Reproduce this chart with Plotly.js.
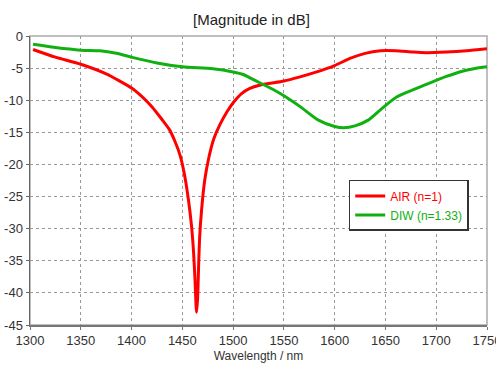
<!DOCTYPE html>
<html><head><meta charset="utf-8">
<script src="https://cdn.plot.ly/plotly-3.0.1.min.js"></script>
<style>html,body{margin:0;padding:0;background:#fff;}#chart{width:496px;height:365px;}</style>
</head><body><div id="chart"></div>
<script>
const airWavelength = [1303,1325,1350,1375,1400,1410,1420,1430,1437,1443,1448,1452,1456,1459,1461,1462.5,1463.5,1464,1465,1466,1467,1469,1472,1476,1481,1487,1494,1501,1508,1516,1525,1535,1550,1565,1580,1600,1615,1630,1645,1660,1677,1690,1710,1730,1750];
const airDb = [-2.1,-3.3,-4.4,-5.9,-8.1,-9.4,-11.0,-13.0,-14.5,-16.5,-18.7,-21.5,-25.5,-29.5,-33.5,-38,-42,-43,-41,-36,-31.5,-27,-22.5,-19,-16,-13.8,-11.8,-10.2,-9.0,-8.2,-7.7,-7.4,-7.0,-6.4,-5.7,-4.6,-3.5,-2.7,-2.3,-2.3,-2.5,-2.6,-2.5,-2.3,-2.0];
const diwWavelength = [1303,1325,1350,1369,1385,1400,1425,1450,1480,1500,1510,1520,1539,1552,1566,1584,1600,1609,1620,1633,1645,1661,1680,1697,1710,1723,1737,1750];
const diwDb = [-1.3,-1.8,-2.2,-2.3,-2.7,-3.3,-4.2,-4.8,-5.1,-5.6,-6.0,-6.8,-8.3,-9.5,-11.0,-13.1,-14.1,-14.3,-14.0,-13.1,-11.5,-9.5,-8.2,-7.1,-6.3,-5.6,-5.1,-4.8];
const seriesNames = ['AIR (n=1)','DIW (n=1.33)'];
const xTicks = [1300,1350,1400,1450,1500,1550,1600,1650,1700,1750];
const yTicks = [0,-5,-10,-15,-20,-25,-30,-35,-40,-45];

const red = '#ff0000', green = '#11b011';
const narrow = 'Liberation Sans Narrow, Arial Narrow, Liberation Sans, sans-serif';
const traces = [
  {x: airWavelength, y: airDb, mode:'lines', name:'<span style="color:'+red+'">'+seriesNames[0]+'</span>',
   line:{color:red, width:3, shape:'spline', smoothing:0.6}},
  {x: diwWavelength, y: diwDb, mode:'lines', name:'<span style="color:'+green+'">'+seriesNames[1]+'</span>',
   line:{color:green, width:3, shape:'spline', smoothing:0.8}}
];
const axFont = {family:narrow, size:13, color:'#333'};
const layout = {
  width:496, height:365,
  margin:{l:30, r:9, t:36, b:40},
  paper_bgcolor:'#fff', plot_bgcolor:'#fff',
  title:{text:'[Magnitude in dB]', font:{family:'Liberation Sans, Arial, sans-serif', size:15, color:'#222'}, x:0.507, xanchor:'center', y:0.945, yanchor:'middle', automargin:false},
  xaxis:{range:[1300,1750], tickvals:xTicks, ticktext:xTicks.map(String), tickfont:axFont, automargin:false, ticklabeloverflow:'allow',
    showgrid:true, gridcolor:'#999', griddash:'dot', gridwidth:1,
    showline:true, linecolor:'#777', linewidth:1.5, ticks:'outside', ticklen:3, tickcolor:'#777',
    zeroline:false,
    title:{text:'Wavelength / nm', font:{family:narrow, size:12, color:'#333'}, standoff:4}},
  yaxis:{range:[-45,0], tickvals:yTicks, ticktext:yTicks.map(String), tickfont:axFont, automargin:false, ticklabeloverflow:'allow',
    showgrid:true, gridcolor:'#999', griddash:'dot', gridwidth:1,
    showline:true, linecolor:'#666', linewidth:1.5, ticks:'outside', ticklen:3, tickcolor:'#666',
    zeroline:false},
  shapes:[{type:'rect', xref:'paper', yref:'paper', x0:0, x1:1, y0:0, y1:1, line:{color:'#aaa', width:1.5}, layer:'below'}],
  showlegend:true,
  legend:{x:0.96, y:0.502, xanchor:'right', yanchor:'top', bgcolor:'#fff', bordercolor:'#333', borderwidth:1.5,
    font:{family:narrow, size:12}, itemwidth:30, tracegroupgap:0},
};
Plotly.newPlot('chart', traces, layout, {displayModeBar:false, staticPlot:true});
</script></body></html>
